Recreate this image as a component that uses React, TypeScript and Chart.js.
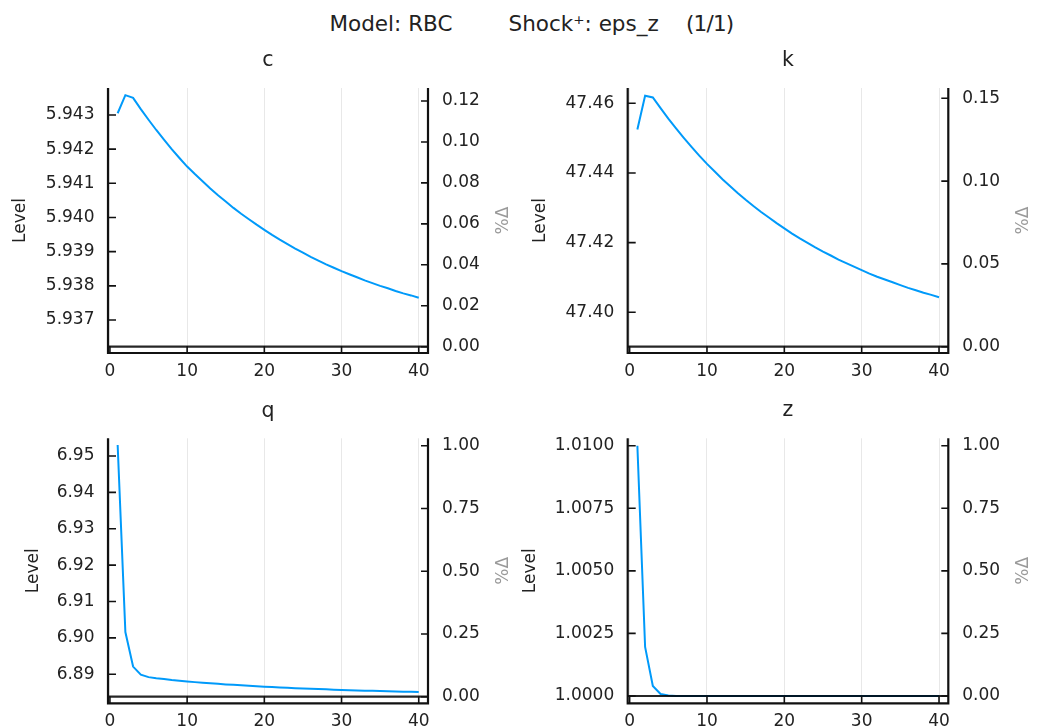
import React, { useEffect, useRef } from "react";
import { Chart, registerables } from "chart.js";

Chart.register(...registerables);

const FONT = "'DejaVu Sans', 'Noto Sans', sans-serif";

const titleModel = "Model: RBC";
const titleShock = "Shock\u207A: eps_z";
const titleCount = "(1/1)";
const levelLabel = "Level";
const pctLabel = "%\u0394";

const periods = [1, 2, 3, 4, 5, 6, 7, 8, 9, 10, 11, 12, 13, 14, 15, 16, 17, 18, 19, 20, 21, 22, 23, 24, 25, 26, 27, 28, 29, 30, 31, 32, 33, 34, 35, 36, 37, 38, 39, 40];

const cLevel = [5.94305, 5.94358, 5.9435, 5.94317, 5.94286, 5.94256, 5.94228, 5.942, 5.94174, 5.94149, 5.94127, 5.94106, 5.94085, 5.94065, 5.94047, 5.94028, 5.94011, 5.93995, 5.93979, 5.93964, 5.93949, 5.93935, 5.93922, 5.93909, 5.93897, 5.93885, 5.93874, 5.93863, 5.93853, 5.93843, 5.93834, 5.93825, 5.93816, 5.93808, 5.938, 5.93793, 5.93785, 5.93778, 5.93772, 5.93765];

const kLevel = [47.4525, 47.4622, 47.4617, 47.4586, 47.4556, 47.4528, 47.4501, 47.4475, 47.445, 47.4426, 47.4404, 47.4382, 47.4362, 47.4342, 47.4323, 47.4305, 47.4288, 47.4272, 47.4256, 47.4241, 47.4226, 47.4212, 47.4199, 47.4186, 47.4174, 47.4163, 47.4151, 47.4141, 47.4131, 47.4121, 47.4111, 47.4102, 47.4094, 47.4086, 47.4078, 47.407, 47.4063, 47.4056, 47.405, 47.4043];

const qLevel = [6.95302, 6.90162, 6.89212, 6.88992, 6.88922, 6.88892, 6.88872, 6.88842, 6.88822, 6.88802, 6.88785, 6.88768, 6.88753, 6.88738, 6.88723, 6.8871, 6.88697, 6.88684, 6.88672, 6.88661, 6.8865, 6.88639, 6.88629, 6.8862, 6.88611, 6.88602, 6.88594, 6.88586, 6.88578, 6.88571, 6.88564, 6.88557, 6.88551, 6.88545, 6.88539, 6.88533, 6.88528, 6.88523, 6.88518, 6.88513];

const zLevel = [1.01, 1.00196, 1.0004, 1.00008, 1.000016, 1.000003, 1.0000006, 1.0, 1.0, 1.0, 1.0, 1.0, 1.0, 1.0, 1.0, 1.0, 1.0, 1.0, 1.0, 1.0, 1.0, 1.0, 1.0, 1.0, 1.0, 1.0, 1.0, 1.0, 1.0, 1.0, 1.0, 1.0, 1.0, 1.0, 1.0, 1.0, 1.0, 1.0, 1.0, 1.0];

const xTickValues = [0, 10, 20, 30, 40];
const cLevelTicks = [5.937, 5.938, 5.939, 5.94, 5.941, 5.942, 5.943];
const cPctTicks = [0, 0.02, 0.04, 0.06, 0.08, 0.1, 0.12];
const kLevelTicks = [47.4, 47.42, 47.44, 47.46];
const kPctTicks = [0, 0.05, 0.1, 0.15];
const qLevelTicks = [6.89, 6.9, 6.91, 6.92, 6.93, 6.94, 6.95];
const qPctTicks = [0, 0.25, 0.5, 0.75, 1];
const zLevelTicks = [1.0, 1.0025, 1.005, 1.0075, 1.01];
const zPctTicks = [0, 0.25, 0.5, 0.75, 1];

const LINE_COLOR = "#009AFA";
const TEXT_COLOR = "#222";
const TICK_SIZE = 17;

type PanelSpec = {
  name: string;
  values: number[];
  levelTicks: number[];
  levelDigits: number;
  pctTicks: number[];
  pctDigits: number;
  levelMin: number;
  levelMax: number;
  pctMin: number;
  pctMax: number;
  box: { x: number; y: number; w: number; h: number };
  area: { l: number; r: number; t: number; b: number };
  levelTitleX: number;
  pctTitleX: number;
  titleY: number;
  xPad: number;
};

const panels: PanelSpec[] = [
  {
    name: "c", values: cLevel, levelTicks: cLevelTicks, levelDigits: 3, pctTicks: cPctTicks, pctDigits: 2,
    levelMin: 5.936035, levelMax: 5.943789, pctMin: -0.00308, pctMax: 0.12635,
    box: { x: 0, y: 0, w: 519, h: 385 }, area: { l: 108, r: 428, t: 88, b: 353 },
    levelTitleX: 20.5, pctTitleX: 503.3, titleY: 60.5, xPad: 8,
  },
  {
    name: "k", values: kLevel, levelTicks: kLevelTicks, levelDigits: 2, pctTicks: kPctTicks, pctDigits: 2,
    levelMin: 47.3883, levelMax: 47.4644, pctMin: -0.0038, pctMax: 0.15622,
    box: { x: 519, y: 0, w: 519, h: 385 }, area: { l: 108.7, r: 429.3, t: 88, b: 353 },
    levelTitleX: 21.5, pctTitleX: 504.3, titleY: 60.5, xPad: 8,
  },
  {
    name: "q", values: qLevel, levelTicks: qLevelTicks, levelDigits: 2, pctTicks: qPctTicks, pctDigits: 2,
    levelMin: 6.88203, levelMax: 6.95487, pctMin: -0.0263, pctMax: 1.0295,
    box: { x: 0, y: 385, w: 519, h: 343 }, area: { l: 108, r: 428, t: 53.3, b: 318.3 },
    levelTitleX: 33.5, pctTitleX: 503.3, titleY: 26.2, xPad: 8,
  },
  {
    name: "z", values: zLevel, levelTicks: zLevelTicks, levelDigits: 4, pctTicks: zPctTicks, pctDigits: 2,
    levelMin: 0.999708, levelMax: 1.010296, pctMin: -0.0292, pctMax: 1.0296,
    box: { x: 519, y: 385, w: 519, h: 343 }, area: { l: 108.7, r: 429.3, t: 53.3, b: 318.3 },
    levelTitleX: 11.5, pctTitleX: 504.3, titleY: 25.7, xPad: 8,
  },
];

function Panel({ p }: { p: PanelSpec }) {
  const ref = useRef<HTMLCanvasElement>(null);
  useEffect(() => {
    const canvas = ref.current;
    if (!canvas) return;
    const W = p.box.w;
    const H = p.box.h;
    const A = p.area;
    const titleFont = 20.5;
    const titleLH = titleFont * 1.2;
    const guideLH = TICK_SIZE * 1.2;

    const overlay = {
      id: "overlay",
      afterDatasetsDraw(chart: any) {
        const { ctx, chartArea: ca, scales } = chart;
        const x = scales.x, y = scales.y, y2 = scales.y2;
        ctx.save();
        const ys = y2.getPixelForValue(0);
        ctx.strokeStyle = "rgba(0,0,0,0.85)";
        ctx.lineWidth = 2.2;
        ctx.beginPath();
        ctx.moveTo(ca.left, ys);
        ctx.lineTo(ca.right, ys);
        ctx.stroke();

        ctx.strokeStyle = "#111";
        ctx.lineWidth = 2.2;
        ctx.beginPath();
        ctx.moveTo(ca.left, ca.top);
        ctx.lineTo(ca.left, ca.bottom);
        ctx.lineTo(ca.right, ca.bottom);
        ctx.lineTo(ca.right, ca.top);
        ctx.stroke();

        ctx.lineWidth = 1.6;
        ctx.beginPath();
        y.ticks.forEach((t: any) => {
          const py = y.getPixelForValue(t.value);
          ctx.moveTo(ca.left, py);
          ctx.lineTo(ca.left + 8, py);
        });
        y2.ticks.forEach((t: any) => {
          const py = y2.getPixelForValue(t.value);
          ctx.moveTo(ca.right, py);
          ctx.lineTo(ca.right - 7, py);
        });
        x.ticks.forEach((t: any) => {
          const px = x.getPixelForValue(t.value);
          ctx.moveTo(px, ca.bottom);
          ctx.lineTo(px, ca.bottom - 7);
        });
        ctx.stroke();

        ctx.translate(p.pctTitleX, (ca.top + ca.bottom) / 2);
        ctx.rotate(-Math.PI / 2);
        ctx.font = `${TICK_SIZE}px ${FONT}`;
        ctx.fillStyle = "#9a9a9a";
        ctx.textAlign = "center";
        ctx.textBaseline = "middle";
        ctx.fillText(pctLabel, 0, 0);
        ctx.restore();
      },
    };

    const chart = new Chart(canvas, {
      type: "line",
      data: {
        datasets: [
          {
            data: periods.map((t, i) => ({ x: t, y: p.values[i] })),
            borderColor: LINE_COLOR,
            borderWidth: 2,
            pointRadius: 0,
            tension: 0,
            fill: false,
            yAxisID: "y",
          },
        ],
      },
      options: {
        responsive: false,
        animation: false,
        devicePixelRatio: 1,
        layout: { padding: 0 },
        plugins: {
          legend: { display: false },
          tooltip: { enabled: false },
          title: {
            display: true,
            text: p.name,
            fullSize: false,
            color: TEXT_COLOR,
            font: { family: FONT, size: titleFont, weight: "normal" },
            padding: { top: p.titleY - titleLH / 2, bottom: A.t - (p.titleY - titleLH / 2) - titleLH },
          },
        },
        scales: {
          x: {
            type: "linear",
            min: -0.25,
            max: 41.2,
            afterBuildTicks: (s: any) => {
              s.ticks = xTickValues.map((v) => ({ value: v }));
            },
            afterFit: (s: any) => {
              s.height = H - A.b;
            },
            grid: { display: true, color: "#e8e8e8", lineWidth: 1, drawTicks: false },
            border: { display: false },
            ticks: {
              autoSkip: false,
              maxRotation: 0,
              padding: p.xPad,
              color: TEXT_COLOR,
              font: { family: FONT, size: TICK_SIZE },
              callback: (v: any) => String(v),
            },
          },
          y: {
            type: "linear",
            position: "left",
            min: p.levelMin,
            max: p.levelMax,
            afterBuildTicks: (s: any) => {
              s.ticks = p.levelTicks.map((v) => ({ value: v }));
            },
            afterFit: (s: any) => {
              s.width = A.l;
            },
            grid: { display: false, drawTicks: false },
            border: { display: false },
            title: {
              display: true,
              text: levelLabel,
              color: TEXT_COLOR,
              font: { family: FONT, size: TICK_SIZE },
              padding: { top: p.levelTitleX - guideLH / 2, bottom: 0 },
            },
            ticks: {
              autoSkip: false,
              padding: 13.5,
              color: TEXT_COLOR,
              font: { family: FONT, size: TICK_SIZE },
              callback: (v: any) => Number(v).toFixed(p.levelDigits),
            },
          },
          y2: {
            type: "linear",
            position: "right",
            min: p.pctMin,
            max: p.pctMax,
            afterBuildTicks: (s: any) => {
              s.ticks = p.pctTicks.map((v) => ({ value: v }));
            },
            afterFit: (s: any) => {
              s.width = W - A.r;
            },
            grid: { display: false, drawTicks: false },
            border: { display: false },
            ticks: {
              autoSkip: false,
              padding: 14,
              color: TEXT_COLOR,
              font: { family: FONT, size: TICK_SIZE },
              callback: (v: any) => Number(v).toFixed(p.pctDigits),
            },
          },
        },
      } as any,
      plugins: [overlay],
    });
    return () => chart.destroy();
  }, [p]);

  return (
    <canvas
      ref={ref}
      width={p.box.w}
      height={p.box.h}
      style={{ position: "absolute", left: p.box.x, top: p.box.y, width: p.box.w, height: p.box.h }}
    />
  );
}

const titleStyle: React.CSSProperties = {
  position: "absolute",
  top: 13,
  fontFamily: FONT,
  fontSize: 21.5,
  lineHeight: "21px",
  whiteSpace: "pre",
  color: TEXT_COLOR,
};

export default function App() {
  return (
    <div style={{ position: "fixed", left: 0, top: 0, width: 1038, height: 728, background: "#fff", overflow: "hidden" }}>
      <div style={{ ...titleStyle, left: 329.5 }}>{titleModel}</div>
      <div style={{ ...titleStyle, left: 508.5 }}>{titleShock}</div>
      <div style={{ ...titleStyle, left: 686, letterSpacing: "-0.8px" }}>{titleCount}</div>
      {panels.map((p) => (
        <Panel key={p.name} p={p} />
      ))}
    </div>
  );
}
